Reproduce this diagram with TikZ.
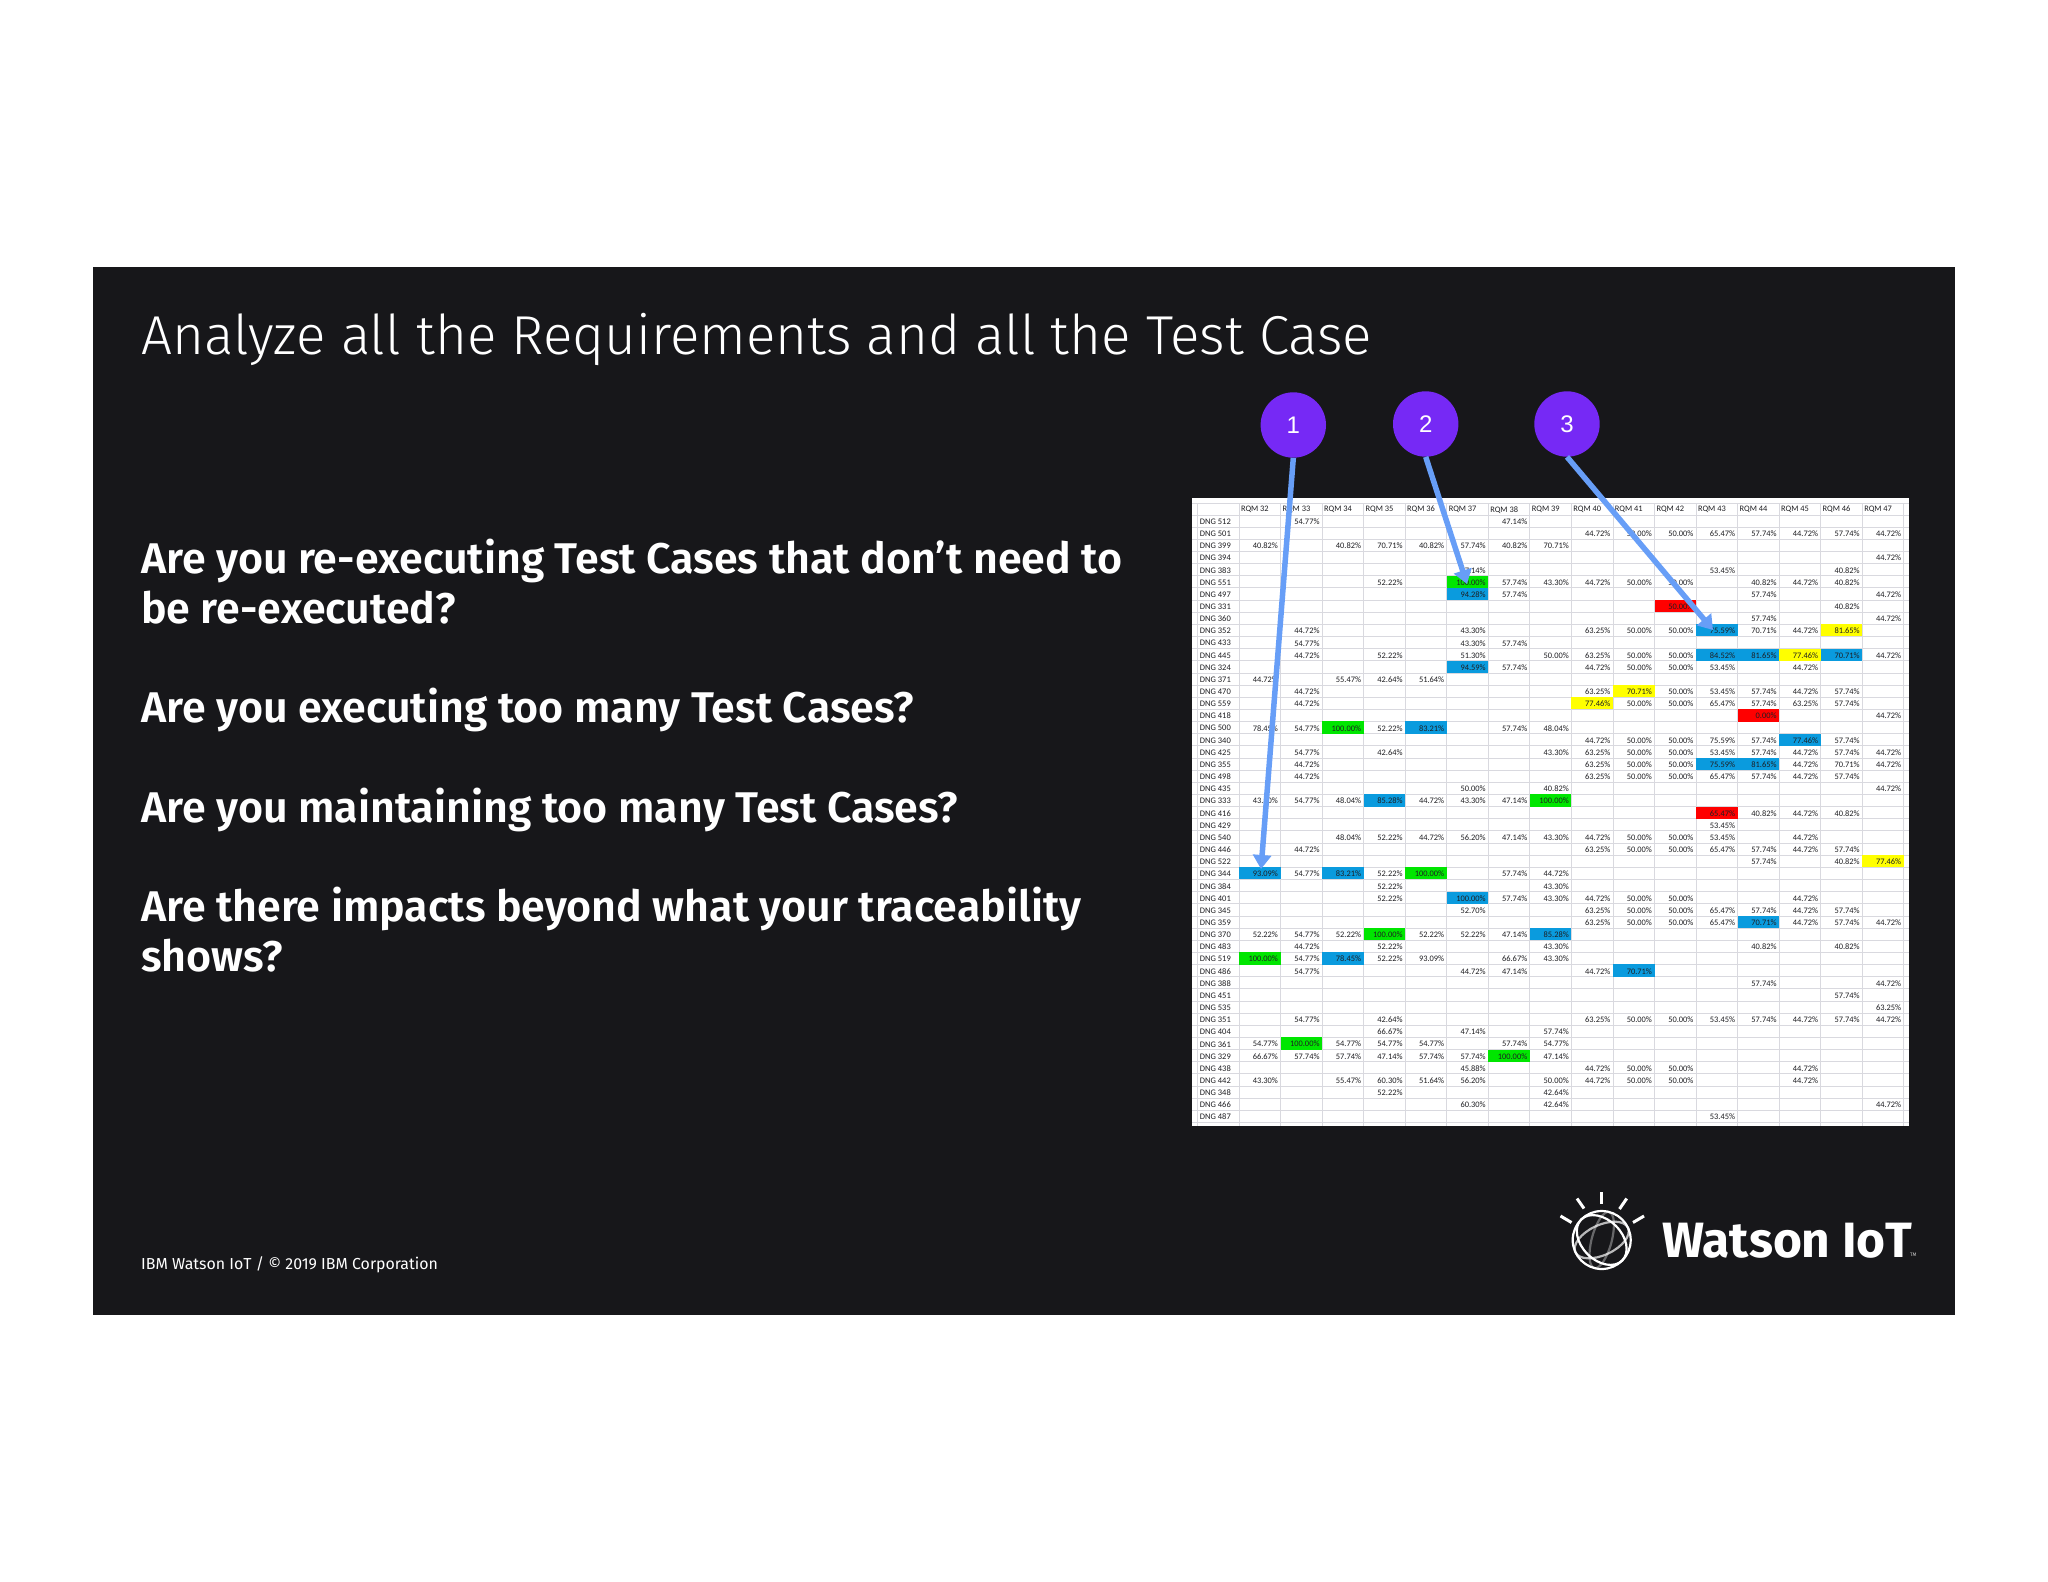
\documentclass[tikz,border=0pt]{standalone}
\usepackage{fontspec}
\usetikzlibrary{arrows.meta}
\setmainfont{Fira Sans}
\newfontfamily\lightfont{Fira Sans Light}
\newfontfamily\semifont{Fira Sans SemiBold}
\newfontfamily\cellfont{Carlito}
\newfontfamily\numfont{Liberation Sans}
\definecolor{panelbg}{HTML}{17171A}
\definecolor{gridc}{HTML}{D9D9DF}
\definecolor{cellink}{HTML}{1E1E22}
\definecolor{hlblue}{HTML}{0A9BDE}
\definecolor{hlgreen}{HTML}{00E600}
\definecolor{hlyellow}{HTML}{FFFF00}
\definecolor{hlred}{HTML}{FF0000}
\definecolor{badge}{HTML}{7629F5}
\definecolor{pointer}{HTML}{679EF7}
\tikzset{
  bodyline/.style={anchor=north west,inner sep=0pt,align=left,text=white,font=\semifont\fontsize{42.95}{49.6}\selectfont},
  badgenode/.style={circle,fill=badge,minimum size=65.4pt,inner sep=0pt,text=white,font=\numfont\fontsize{24}{24}\selectfont},
  pointerline/.style={draw=pointer,line width=5.5pt,-{Triangle[width=18pt,length=14pt]}},
  rowlabel/.style={anchor=west,inner sep=0pt,text=cellink,font=\cellfont\fontsize{8.5}{8.5}\selectfont},
  valcell/.style={anchor=east,inner sep=0pt,text=cellink,font=\cellfont\fontsize{8.4}{8.4}\selectfont},
  headcell/.style={anchor=west,inner sep=0pt,text=cellink,font=\cellfont\fontsize{8.4}{8.4}\selectfont},
  ray/.style={draw=white,line width=3pt},
  globe/.style={draw=white,line width=2.2pt},
}
\newcommand{\colx}[1]{1239+41.55*(#1-32)}
\newcommand{\rowy}[1]{521+12.15*(#1-1)}
\newcommand{\trow}[3]{%
  \node[rowlabel] (dng-#1) at (1199.7,{\rowy{#1}+0.7}) {DNG #2};
  \foreach \c/\v in {#3}{%
    \node[valcell] (cell-#1-\c) at ({\colx{\c}+41.55-2.4},{\rowy{#1}+0.7}) {\v\%};
  }%
}
\newcommand{\hl}[3]{\fill[#3] ({\colx{#2}},{\rowy{#1}-6.1}) rectangle ({\colx{#2}+41.55},{\rowy{#1}+6.1});}
\begin{document}
\begin{tikzpicture}[x=1pt,y=-1pt]
\useasboundingbox (0,0) rectangle (2048,1582);
\fill[white] (0,0) rectangle (2048,1582);
\fill[panelbg] (92.7,267) rectangle (1954.5,1314.5);
\node[anchor=base west,inner sep=0pt,text=white,font=\lightfont\fontsize{54.8}{60}\selectfont] (title) at (141,354) {Analyze all the Requirements and all the Test Case};
\node[bodyline] (q1) at (141,539) {Are you re-executing Test Cases that don’t need to\\be re-executed?};
\node[bodyline] (q2) at (141,688) {Are you executing too many Test Cases?};
\node[bodyline] (q3) at (141,788) {Are you maintaining too many Test Cases?};
\node[bodyline] (q4) at (141,887) {Are there impacts beyond what your traceability\\shows?};
\node[anchor=west,inner sep=0pt,text=white,font=\fontsize{15.9}{18}\selectfont] (foot) at (141,1265) {IBM Watson IoT / © 2019 IBM Corporation};
% table
\fill[white] (1192,498) rectangle (1909,1126);
\draw[gridc,line width=0.9pt] (1197.7,503) -- (1197.7,1126);
\foreach \k in {32,...,48}{\draw[gridc,line width=0.9pt] ({\colx{\k}},503) -- ({\colx{\k}},1126);}
\foreach \k in {0,...,50}{\draw[gridc,line width=0.9pt] (1192,{515+12.15*\k}) -- (1909,{515+12.15*\k});}
\draw[gridc,line width=0.9pt] (1192,503) -- (1909,503);
\hl{6}{37}{hlgreen}\hl{7}{37}{hlblue}\hl{8}{42}{hlred}\hl{10}{43}{hlblue}\hl{10}{46}{hlyellow}
\hl{12}{43}{hlblue}\hl{12}{44}{hlblue}\hl{12}{45}{hlyellow}\hl{12}{46}{hlblue}\hl{13}{37}{hlblue}
\hl{15}{41}{hlyellow}\hl{16}{40}{hlyellow}\hl{17}{44}{hlred}\hl{18}{34}{hlgreen}\hl{18}{36}{hlblue}
\hl{19}{45}{hlblue}\hl{21}{43}{hlblue}\hl{21}{44}{hlblue}\hl{24}{35}{hlblue}\hl{24}{39}{hlgreen}
\hl{25}{43}{hlred}\hl{29}{47}{hlyellow}\hl{30}{32}{hlblue}\hl{30}{34}{hlblue}\hl{30}{36}{hlgreen}
\hl{32}{37}{hlblue}\hl{34}{44}{hlblue}\hl{35}{35}{hlgreen}\hl{35}{39}{hlblue}\hl{37}{32}{hlgreen}
\hl{37}{34}{hlblue}\hl{38}{41}{hlblue}\hl{44}{33}{hlgreen}\hl{45}{38}{hlgreen}
\foreach \c in {32,...,47}{\node[headcell] (head-\c) at ({\colx{\c}+1.8},509.7) {RQM \c};}
\trow{1}{512}{33/54.77,38/47.14}
\trow{2}{501}{40/44.72,41/50.00,42/50.00,43/65.47,44/57.74,45/44.72,46/57.74,47/44.72}
\trow{3}{399}{32/40.82,34/40.82,35/70.71,36/40.82,37/57.74,38/40.82,39/70.71}
\trow{4}{394}{47/44.72}
\trow{5}{383}{37/47.14,43/53.45,46/40.82}
\trow{6}{551}{35/52.22,37/100.00,38/57.74,39/43.30,40/44.72,41/50.00,42/50.00,44/40.82,45/44.72,46/40.82}
\trow{7}{497}{37/94.28,38/57.74,44/57.74,47/44.72}
\trow{8}{331}{42/50.00,46/40.82}
\trow{9}{360}{44/57.74,47/44.72}
\trow{10}{352}{33/44.72,37/43.30,40/63.25,41/50.00,42/50.00,43/75.59,44/70.71,45/44.72,46/81.65}
\trow{11}{433}{33/54.77,37/43.30,38/57.74}
\trow{12}{445}{33/44.72,35/52.22,37/51.30,39/50.00,40/63.25,41/50.00,42/50.00,43/84.52,44/81.65,45/77.46,46/70.71,47/44.72}
\trow{13}{324}{37/94.59,38/57.74,40/44.72,41/50.00,42/50.00,43/53.45,45/44.72}
\trow{14}{371}{32/44.72,34/55.47,35/42.64,36/51.64}
\trow{15}{470}{33/44.72,40/63.25,41/70.71,42/50.00,43/53.45,44/57.74,45/44.72,46/57.74}
\trow{16}{559}{33/44.72,40/77.46,41/50.00,42/50.00,43/65.47,44/57.74,45/63.25,46/57.74}
\trow{17}{418}{44/0.00,47/44.72}
\trow{18}{500}{32/78.45,33/54.77,34/100.00,35/52.22,36/83.21,38/57.74,39/48.04}
\trow{19}{340}{40/44.72,41/50.00,42/50.00,43/75.59,44/57.74,45/77.46,46/57.74}
\trow{20}{425}{33/54.77,35/42.64,39/43.30,40/63.25,41/50.00,42/50.00,43/53.45,44/57.74,45/44.72,46/57.74,47/44.72}
\trow{21}{355}{33/44.72,40/63.25,41/50.00,42/50.00,43/75.59,44/81.65,45/44.72,46/70.71,47/44.72}
\trow{22}{498}{33/44.72,40/63.25,41/50.00,42/50.00,43/65.47,44/57.74,45/44.72,46/57.74}
\trow{23}{435}{37/50.00,39/40.82,47/44.72}
\trow{24}{333}{32/43.30,33/54.77,34/48.04,35/85.28,36/44.72,37/43.30,38/47.14,39/100.00}
\trow{25}{416}{43/65.47,44/40.82,45/44.72,46/40.82}
\trow{26}{429}{43/53.45}
\trow{27}{540}{34/48.04,35/52.22,36/44.72,37/56.20,38/47.14,39/43.30,40/44.72,41/50.00,42/50.00,43/53.45,45/44.72}
\trow{28}{446}{33/44.72,40/63.25,41/50.00,42/50.00,43/65.47,44/57.74,45/44.72,46/57.74}
\trow{29}{522}{44/57.74,46/40.82,47/77.46}
\trow{30}{344}{32/93.09,33/54.77,34/83.21,35/52.22,36/100.00,38/57.74,39/44.72}
\trow{31}{384}{35/52.22,39/43.30}
\trow{32}{401}{35/52.22,37/100.00,38/57.74,39/43.30,40/44.72,41/50.00,42/50.00,45/44.72}
\trow{33}{345}{37/52.70,40/63.25,41/50.00,42/50.00,43/65.47,44/57.74,45/44.72,46/57.74}
\trow{34}{359}{40/63.25,41/50.00,42/50.00,43/65.47,44/70.71,45/44.72,46/57.74,47/44.72}
\trow{35}{370}{32/52.22,33/54.77,34/52.22,35/100.00,36/52.22,37/52.22,38/47.14,39/85.28}
\trow{36}{483}{33/44.72,35/52.22,39/43.30,44/40.82,46/40.82}
\trow{37}{519}{32/100.00,33/54.77,34/78.45,35/52.22,36/93.09,38/66.67,39/43.30}
\trow{38}{486}{33/54.77,37/44.72,38/47.14,40/44.72,41/70.71}
\trow{39}{388}{44/57.74,47/44.72}
\trow{40}{451}{46/57.74}
\trow{41}{535}{47/63.25}
\trow{42}{351}{33/54.77,35/42.64,40/63.25,41/50.00,42/50.00,43/53.45,44/57.74,45/44.72,46/57.74,47/44.72}
\trow{43}{404}{35/66.67,37/47.14,39/57.74}
\trow{44}{361}{32/54.77,33/100.00,34/54.77,35/54.77,36/54.77,38/57.74,39/54.77}
\trow{45}{329}{32/66.67,33/57.74,34/57.74,35/47.14,36/57.74,37/57.74,38/100.00,39/47.14}
\trow{46}{438}{37/45.88,40/44.72,41/50.00,42/50.00,45/44.72}
\trow{47}{442}{32/43.30,34/55.47,35/60.30,36/51.64,37/56.20,39/50.00,40/44.72,41/50.00,42/50.00,45/44.72}
\trow{48}{348}{35/52.22,39/42.64}
\trow{49}{466}{37/60.30,39/42.64,47/44.72}
\trow{50}{487}{43/53.45}
% badges and pointers
\node[badgenode] (b1) at (1293.3,425) {1};
\node[badgenode] (b2) at (1425.7,424) {2};
\node[badgenode] (b3) at (1567,424) {3};
\coordinate (t1) at (1261,869);
\coordinate (t2) at (1467,584);
\coordinate (t3) at (1713,630);
\draw[pointerline] (b1.south) -- (t1);
\draw[pointerline] (b2.south) -- (t2);
\draw[pointerline] (b3.south) -- (t3);
% logo
\draw[ray] (1601.7,1192) -- (1601.7,1204);
\draw[ray] (1577,1198.5) -- (1584,1208.5);
\draw[ray] (1626.7,1198.5) -- (1619.5,1209);
\draw[ray] (1560.5,1216) -- (1571.5,1222.5);
\draw[ray] (1644,1216) -- (1633,1222.5);
\draw[globe] (1601.7,1240) circle (29);
\draw[globe,rotate around={-45:(1601.7,1240)}] (1601.7,1240) ellipse (29 and 20);
\draw[globe,draw opacity=.7,rotate around={25:(1601.7,1240)}] (1601.7,1240) ellipse (29 and 15);
\draw[globe,draw opacity=.35,rotate around={75:(1601.7,1240)}] (1601.7,1240) ellipse (29 and 10);
\node[anchor=base west,inner sep=0pt,text=white,font=\fontsize{49.6}{50}\selectfont\bfseries] (logo) at (1662,1257) {Watson IoT};
\node[anchor=base west,inner sep=0pt,text=white!80!black,font=\fontsize{5}{5}\selectfont] (tm) at (1910,1256) {TM};
\end{tikzpicture}
\end{document}
